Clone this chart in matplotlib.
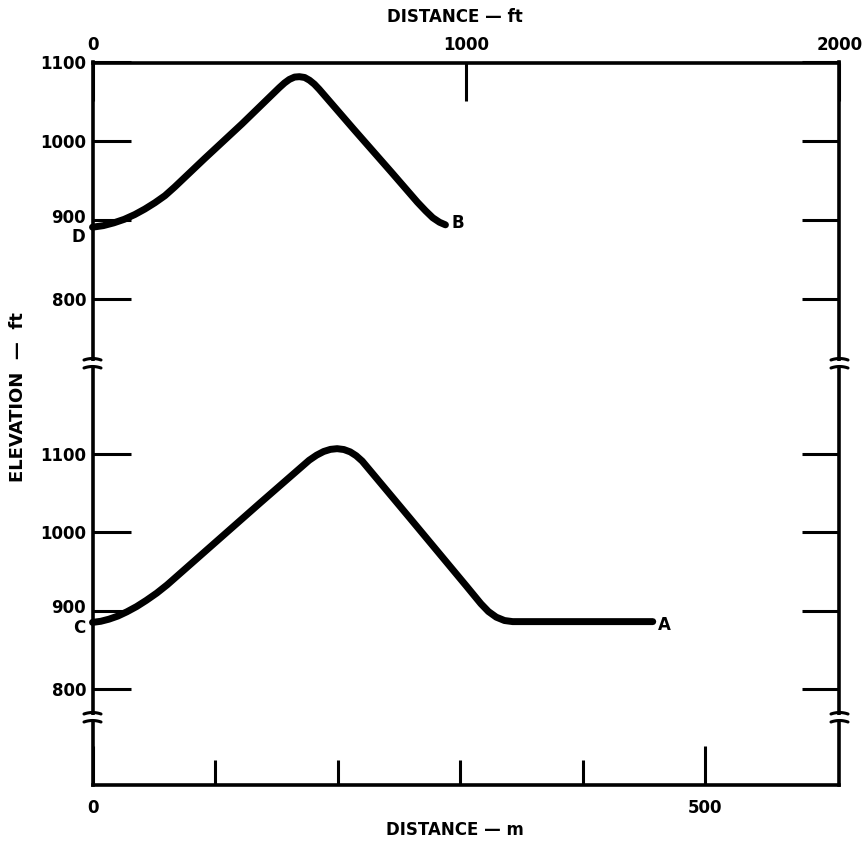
import matplotlib
matplotlib.use("Agg")
import numpy as np
import matplotlib.pyplot as plt
from matplotlib.lines import Line2D
from matplotlib.patches import Rectangle
from matplotlib.transforms import IdentityTransform, ScaledTranslation

W, H, DPI = 865, 844, 100
FT_PER_M = 1 / 0.3048

# Profile D-B (upper panel): distance (ft) and elevation (ft)
db_dist = [0, 29, 57, 85, 113, 140, 167, 194, 220, 300, 400,
           500, 514, 527, 541, 554, 568, 581, 594, 607,
           700, 800, 870, 892, 911, 929, 945]
db_elev = [891, 893, 896.5, 901, 907, 914, 922, 931, 942, 978, 1022,
           1068, 1074, 1078.5, 1081.5, 1082, 1081, 1077.5, 1072.5, 1066,
           1015, 961, 922.7, 911.7, 903, 897.3, 894]

# Profile C-A (lower panel): distance (ft) and elevation (ft)
ca_dist = [0, 22, 44, 68, 92, 118, 144, 172, 200, 300, 450,
           580, 600, 619, 637, 655, 673, 690, 706, 722,
           850, 1000, 1040, 1060, 1081, 1103, 1125, 1500]
ca_elev = [885, 886.4, 889.1, 893.1, 898.5, 905.2, 913.1, 922.4, 933, 975, 1038,
           1092, 1098.5, 1103.2, 1105.9, 1106.8, 1105.7, 1102.7, 1097.8, 1091,
           1018, 932, 908.8, 898.9, 891.7, 887.4, 886, 886]

elev_ticks = [800, 900, 1000, 1100]
ft_ticks = [0, 1000, 2000]
m_major = [0, 500]
m_minor = [100, 200, 300, 400]

plt.rcParams["font.family"] = ["DejaVu Sans"]
plt.rcParams["font.weight"] = "bold"

SPINE_W = 2.6
TICK_W = 2.2
LINE_W = 5.0
FS = 12

fig = plt.figure(figsize=(W / DPI, H / DPI), dpi=DPI)

left = 92.5 / W
width = (839.5 - 92.5) / W
y_top, y_join, y_bot = 62.5, 364.0, 785.0
ax_top = fig.add_axes([left, 1 - y_join / H, width, (y_join - y_top) / H])
ax_bot = fig.add_axes([left, 1 - y_bot / H, width, (y_bot - y_join) / H])

for ax in (ax_top, ax_bot):
    ax.set_xlim(0, 2000)
    for sp in ax.spines.values():
        sp.set_linewidth(SPINE_W)
    ax.set_yticks(elev_ticks)
    ax.set_yticklabels([str(v) for v in elev_ticks])
    ax.yaxis.set_ticks_position("both")
    ax.tick_params(axis="y", which="both", direction="in", length=27, width=TICK_W,
                   pad=4.5, labelsize=FS, labelleft=True, labelright=False)

ax_top.set_ylim(717.4, 1100)
ax_bot.set_ylim(677.4, 1214.9)
ax_top.spines["bottom"].set_visible(False)
ax_bot.spines["top"].set_visible(False)

# distance in feet along the top
ax_top.xaxis.tick_top()
ax_top.set_xticks(ft_ticks)
ax_top.set_xticklabels([str(v) for v in ft_ticks])
ax_top.tick_params(axis="x", direction="in", length=27, width=TICK_W, pad=6,
                   labelsize=FS, bottom=False, labelbottom=False)

# distance in metres along the bottom
ax_bot.set_xticks([m * FT_PER_M for m in m_major])
ax_bot.set_xticklabels([str(v) for v in m_major])
ax_bot.set_xticks([m * FT_PER_M for m in m_minor], minor=True)
ax_bot.tick_params(axis="x", which="major", direction="in", length=28, width=TICK_W,
                   pad=10, labelsize=FS, top=False)
ax_bot.tick_params(axis="x", which="minor", direction="in", length=18, width=TICK_W,
                   top=False)

# nudge the 900 labels up to leave room for the profile end letters
for ax in (ax_top, ax_bot):
    for t in ax.get_yticklabels():
        if t.get_text() == "900":
            t.set_transform(t.get_transform() + ScaledTranslation(0, 3 / 72, fig.dpi_scale_trans))

# profiles
ax_top.plot(db_dist, db_elev, color="black", lw=LINE_W, solid_joinstyle="round",
            solid_capstyle="round", clip_on=False)
ax_bot.plot(ca_dist, ca_elev, color="black", lw=LINE_W, solid_joinstyle="round",
            solid_capstyle="round", clip_on=False)

lab = dict(fontsize=FS, fontweight="bold", textcoords="offset points")
ax_top.annotate("D", (db_dist[0], db_elev[0]), xytext=(-5, -7), ha="right", va="center", **lab)
ax_top.annotate("B", (db_dist[-1], db_elev[-1]), xytext=(4.5, 1), ha="left", va="center", **lab)
ax_bot.annotate("C", (ca_dist[0], ca_elev[0]), xytext=(-5, -4), ha="right", va="center", **lab)
ax_bot.annotate("A", (ca_dist[-1], ca_elev[-1]), xytext=(4, -2.5), ha="left", va="center", **lab)

# axis titles
fig.text(455 / W, 1 - 17 / H, "DISTANCE \u2014 ft", ha="center", va="center",
         fontsize=FS, fontweight="bold")
fig.text(455 / W, 1 - 830 / H, "DISTANCE \u2014 m", ha="center", va="center",
         fontsize=FS, fontweight="bold")
fig.text(18 / W, 1 - 397 / H, "ELEVATION  \u2014  ft", ha="center", va="center",
         rotation=90, fontsize=13, fontweight="bold")


def axis_break(ax, frac, gap=4.0, half=8.5):
    """Draw a break symbol across both vertical spines at an axes-fraction height."""
    fig.canvas.draw()
    for xf in (0, 1):
        xc, yc = ax.transAxes.transform((xf, frac))
        fig.add_artist(Rectangle((xc - 5, yc - gap + 1), 10, 2 * gap - 2,
                                 transform=IdentityTransform(), facecolor="white",
                                 edgecolor="none", zorder=10))
        t = np.linspace(-1, 1, 15)
        xs = xc + half * t
        for sgn in (1, -1):
            ys = yc + sgn * gap + 1.5 * (1 - t ** 2)
            fig.add_artist(Line2D(xs, ys, transform=IdentityTransform(), color="black",
                                  lw=2.2, solid_capstyle="round", zorder=11))


axis_break(ax_bot, 1.0)
axis_break(ax_bot, (y_bot - 718) / (y_bot - y_join))

fig.savefig("out.png", dpi=DPI, facecolor="white")
